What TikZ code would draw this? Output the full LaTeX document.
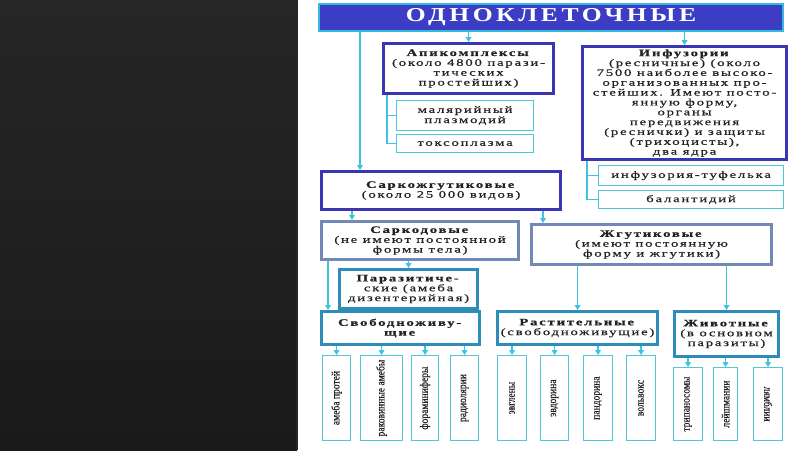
\documentclass[tikz,border=0pt]{standalone}
\usepackage{fontspec}
\usepackage{graphicx}
\setmainfont{Liberation Serif}
\newfontfamily\boxfont[FakeStretch=1.5,LetterSpace=18,FakeBold=0.6]{Liberation Serif}
\newfontfamily\headfont[FakeStretch=1.3,LetterSpace=18]{Liberation Serif}
\newfontfamily\leaffont[FakeStretch=0.85,FakeBold=0.4]{Liberation Serif}
\usetikzlibrary{positioning,arrows.meta,calc}
\definecolor{ink}{HTML}{222222}
\definecolor{bgtop}{HTML}{262626}
\definecolor{bgbot}{HTML}{1A1A1A}
\definecolor{titleblue}{HTML}{3B3EC4}
\definecolor{titlecyan}{HTML}{36B8E0}
\definecolor{deepblue}{HTML}{3A36B2}
\definecolor{steelgray}{HTML}{7289B8}
\definecolor{tealblue}{HTML}{2E8DB8}
\definecolor{leafcyan}{HTML}{4FC6DA}
\definecolor{arrowcyan}{HTML}{3EC3E3}
\def\px{0.025cm}
\def\svobLeaves{s1/322/350/амеба протей, s2/360/402/раковинные амебы, s3/411/438/фораминиферы, s4/450/478/радиолярии}
\def\rastLeaves{r1/497/526/эвглены, r2/540/568/эвдорина, r3/583/612/пандорина, r4/626/655/вольвокс}
\tikzset{
  >=Stealth,
  arr/.style={-{Triangle[length=3.5pt,width=4pt]}, draw=arrowcyan, line width=0.9pt},
  link/.style={draw=arrowcyan, line width=0.9pt},
  titlebox/.style={fill=titleblue, draw=titlecyan, line width=1.5pt, text=white, inner sep=0pt,
                   font=\headfont\bfseries\fontsize{14}{16}\selectfont},
  mainbox/.style={draw=deepblue, line width=2.2pt, fill=white, inner sep=1pt, align=center, text=ink,
                  font=\boxfont\fontsize{7}{7}\selectfont},
  graybox/.style={mainbox, draw=steelgray},
  tealbox/.style={mainbox, draw=tealblue},
  leaf/.style={draw=leafcyan, line width=0.8pt, fill=white, inner sep=0pt, align=center, text=ink,
               font=\boxfont\fontsize{7}{7.2}\selectfont},
  vleaf/.style={leaf, font=\leaffont\fontsize{8}{9}\selectfont},
}
\begin{document}
\begin{tikzpicture}[x=0.025cm, y=-0.025cm]
  \useasboundingbox (0,0) rectangle (800,450);
  \shade[top color=bgtop, bottom color=bgbot] (0,0) rectangle (297,450);
  \fill[white] (297,0) rectangle (800,450);
  \draw[black!85, line width=0.8pt] (297,0) -- (297,450);

  % top level
  \node[titlebox, minimum width=464*\px, minimum height=27*\px, anchor=north west] (title) at (318,3) {ОДНОКЛЕТОЧНЫЕ};

  \node[mainbox, minimum width=170*\px, minimum height=50*\px, anchor=north west] (api) at (382,42)
    {\textbf{Апикомплексы}\\(около 4800 парази-\\тических\\простейших)};
  \node[leaf, minimum width=137*\px, minimum height=30*\px, anchor=north west] (mal) at (396,100) {малярийный\\плазмодий};
  \node[leaf, minimum width=137*\px, minimum height=18*\px, anchor=north west] (toks) at (396,134) {токсоплазма};

  \node[mainbox, minimum width=204*\px, minimum height=113*\px, anchor=north west] (inf) at (581,45)
    {\textbf{Инфузории}\\(ресничные) (около\\7500 наиболее высоко-\\организованных про-\\стейших. Имеют посто-\\янную форму,\\органы\\передвижения\\(реснички) и защиты\\(трихоцисты),\\два ядра};
  \node[leaf, minimum width=185*\px, minimum height=20*\px, anchor=north west] (tuf) at (598,165) {инфузория-туфелька};
  \node[leaf, minimum width=185*\px, minimum height=18*\px, anchor=north west] (bal) at (598,190) {балантидий};

  % саркожгутиковые
  \node[mainbox, minimum width=239*\px, minimum height=38*\px, anchor=north west] (sark) at (320,170)
    {\textbf{Саркожгутиковые}\\(около 25 000 видов)};
  \node[graybox, minimum width=197*\px, minimum height=38*\px, anchor=north west] (sarc) at (320,220)
    {\textbf{Саркодовые}\\(не имеют постоянной\\формы тела)};
  \node[graybox, minimum width=240*\px, minimum height=40*\px, anchor=north west] (zhg) at (530,223)
    {\textbf{Жгутиковые}\\(имеют постоянную\\форму и жгутики)};
  \node[tealbox, minimum width=138*\px, minimum height=39*\px, anchor=north west] (par) at (338,268)
    {\textbf{Паразитиче-}\\ские (амеба\\дизентерийная)};
  \node[tealbox, minimum width=158*\px, minimum height=33*\px, anchor=north west] (svob) at (320,310)
    {\textbf{Свободноживу-}\\\textbf{щие}};
  \node[tealbox, minimum width=160*\px, minimum height=33*\px, anchor=north west] (rast) at (496,310)
    {\textbf{Растительные}\\(свободноживущие)};
  \node[tealbox, minimum width=104*\px, minimum height=45*\px, anchor=north west] (zhiv) at (673,310)
    {\textbf{Животные}\\(в основном\\паразиты)};

  % leaves
  \foreach \n/\a/\b/\t in \svobLeaves {
    \node[vleaf, minimum width={(\b-\a)*\px}, minimum height=85*\px, anchor=north west] (\n) at (\a,355) {\rotatebox{90}{\t}};
    \draw[arr] (svob.south -| \n.north) -- (\n.north);
  }
  \foreach \n/\a/\b/\t in \rastLeaves {
    \node[vleaf, minimum width={(\b-\a)*\px}, minimum height=85*\px, anchor=north west] (\n) at (\a,355) {\rotatebox{90}{\t}};
    \draw[arr] (rast.south -| \n.north) -- (\n.north);
  }
  \node[vleaf, minimum width=29*\px, minimum height=73*\px, anchor=north west] (z1) at (673,367) {\rotatebox{90}{трипаносомы}};
  \node[vleaf, minimum width=24*\px, minimum height=73*\px, anchor=north west] (z2) at (713,367) {\rotatebox{90}{лейшмании}};
  \node[vleaf, minimum width=29*\px, minimum height=73*\px, anchor=north west] (z3) at (753,367) {\rotatebox{-90}{лямблии}};
  \foreach \n in {z1,z2,z3}
    \draw[arr] (zhiv.south -| \n.north) -- (\n.north);

  % connectors
  \draw[arr] (title.south -| api.north) -- (api.north);
  \draw[arr] (title.south -| inf.north) -- (inf.north);
  \coordinate (sarkin) at ($(sark.north west)+(40,0)$);
  \draw[arr] (title.south -| sarkin) -- (sarkin);
  \coordinate (apifoot) at ($(api.south west)+(5,0)$);
  \draw[link] (apifoot) |- (toks.west);
  \draw[link] (apifoot |- mal.west) -- (mal.west);
  \coordinate (inffoot) at ($(inf.south west)+(6,0)$);
  \draw[link] (inffoot) |- (bal.west);
  \draw[link] (inffoot |- tuf.west) -- (tuf.west);
  \coordinate (sarcin) at ($(sarc.north west)+(32,0)$);
  \draw[arr] (sark.south -| sarcin) -- (sarcin);
  \coordinate (zhgin) at ($(zhg.north west)+(13,0)$);
  \draw[arr] (sark.south -| zhgin) -- (zhgin);
  \draw[arr] (sarc.south -| par.north) -- (par.north);
  \coordinate (svobin) at ($(svob.north west)+(8,0)$);
  \draw[arr] (sarc.south -| svobin) -- (svobin);
  \draw[arr] (zhg.south -| rast.north) -- (rast.north);
  \draw[arr] (zhg.south -| zhiv.north) -- (zhiv.north);
\end{tikzpicture}
\end{document}
